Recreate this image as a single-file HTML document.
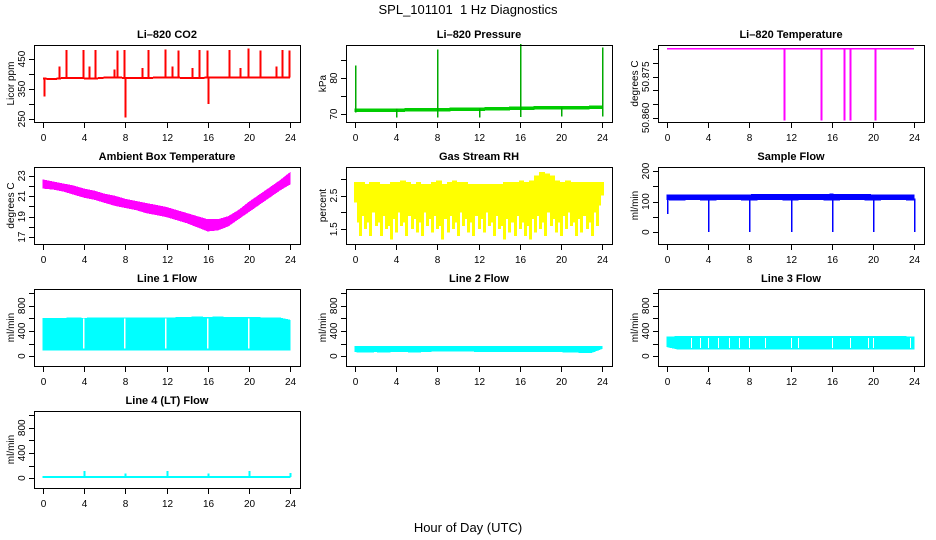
<!DOCTYPE html>
<html><head><meta charset="utf-8"><style>
body{margin:0;background:#fff}
svg{display:block;font-family:"Liberation Sans",sans-serif}
</style></head><body>
<svg id="c" width="936" height="540" viewBox="0 0 936 540">
<rect width="936" height="540" fill="#fff"/>
<text x="468" y="14" text-anchor="middle" font-size="13">SPL_101101&#160; 1 Hz Diagnostics</text>
<text x="468" y="532" text-anchor="middle" font-size="13">Hour of Day (UTC)</text>
</svg>
<script>
const hours=[0,1,2,3,4,5,6,7,8,9,10,11,12,13,14,15,16,17,18,19,20,21,22,23,24];
const xTicks=[0,4,8,12,16,20,24];
// CO2
const co2Base=[385,383,387,387,386,385,388,389,387,386,387,388,388,388,387,387,388,388,388,388,388,388,388,388,388];
const co2SpikeHours=[0.1,1.6,2.2,3.9,4.5,5.1,6.9,7.2,7.9,8.0,9.6,10.2,11.9,12.5,13.1,14.5,15.2,15.9,16.0,18.1,19.1,19.9,21.1,22.6,23.2,23.9];
const co2SpikeVals=[325,425,480,480,425,480,415,478,480,255,420,480,482,425,478,420,480,478,300,480,420,485,478,425,480,478];
// Pressure
const presBase=[71.0,71.0,71.0,71.0,71.0,71.1,71.1,71.1,71.2,71.2,71.3,71.3,71.3,71.4,71.4,71.5,71.6,71.6,71.7,71.7,71.7,71.7,71.7,71.8,71.8];
const presSpikeHours=[0,4,8,12,16,20,24];
const presSpikeHigh=[83.5,71.5,88,71.5,89.5,71.8,88.5];
const presSpikeLow=[70.5,69,69,69,69.2,69.3,69.3];
// Li-820 temperature
const tempLevel=50.8853;
const tempDropHours=[11.4,15.0,17.2,17.8,20.2];
const tempDropVals=[50.8590,50.8590,50.8590,50.8590,50.8590];
// Ambient box temp
const ambUpper=[22.6,22.4,22.2,22.0,21.7,21.5,21.2,21.0,20.7,20.5,20.3,20.1,19.9,19.6,19.3,19.0,18.7,18.7,19.0,19.6,20.4,21.1,21.8,22.5,23.3];
const ambLower=[21.8,21.7,21.5,21.2,20.9,20.7,20.4,20.1,19.9,19.7,19.4,19.2,19.0,18.7,18.4,18.0,17.6,17.7,18.1,18.8,19.5,20.2,20.9,21.6,22.2];
// RH (half-hour)
const rhLow=[2.3,1.3,1.5,1.3,1.6,1.3,1.5,1.2,1.4,1.6,1.3,1.5,1.4,1.3,1.6,1.4,1.5,1.2,1.4,1.5,1.3,1.6,1.4,1.3,1.5,1.4,1.6,1.3,1.5,1.2,1.4,1.3,1.5,1.3,1.2,1.4,1.5,1.3,1.6,1.4,1.3,1.5,1.6,1.3,1.4,1.5,1.3,1.6,2.5];
const rhHigh=[2.9,2.9,2.85,2.9,2.9,2.85,2.85,2.9,2.9,2.95,2.9,2.85,2.9,2.85,2.85,2.9,2.95,2.85,2.9,2.95,2.9,2.9,2.85,2.85,2.85,2.85,2.85,2.85,2.85,2.9,2.9,2.9,2.95,2.9,2.95,3.1,3.2,3.15,3.1,2.95,2.9,2.95,2.9,2.9,2.9,2.9,2.9,2.9,2.9];
// Sample flow
const sfUpper=[122,122,122,122,122,122,122,122,122,123,123,123,123,123,123,123,124,123,123,123,122,122,122,121,121];
const sfLower=[106,105,106,106,105,106,106,106,105,106,106,106,105,106,106,106,105,106,106,106,105,106,106,106,105];
const sfDipHours=[0,4,8,12,16,20,24];
const sfDipVals=[60,0,0,0,0,0,0];
// Line flows
const l1Upper=[600,595,600,605,600,605,605,605,605,605,605,605,605,610,615,620,615,620,615,615,610,610,605,605,570];
const l1Lower=[100,100,100,100,100,100,100,100,100,100,100,100,100,100,100,100,100,100,100,100,100,100,100,100,100];
const lineGapHours=[4,8,12,16,20];
const l2Upper=[150,150,150,150,150,150,150,150,150,150,150,150,150,150,150,150,150,150,150,150,150,150,150,150,150];
const l2Lower=[70,65,70,65,75,70,65,75,80,80,80,80,75,75,75,75,70,70,70,70,70,65,60,60,120];
const l3Upper=[300,310,310,310,310,310,310,310,310,310,310,310,310,310,310,310,310,310,310,310,310,310,310,310,300];
const l3Lower=[150,115,115,115,115,115,115,115,115,115,115,115,115,115,115,115,115,115,115,115,115,115,115,115,115];
const l3GapHours=[2.3,3.2,4,5,6,7,8,9.5,12,12.7,16,17.8,19.5,20,23.6];
const l4Base=[15,15,15,15,15,15,15,15,15,15,15,15,15,15,15,15,15,15,15,15,15,15,15,15,15];
const l4SpikeHours=[4,8,12,16,20,24];
const l4SpikeVals=[115,75,115,75,115,80];

const svg=document.getElementById('c');
const NS='http://www.w3.org/2000/svg';
function el(tag,attrs,parent){const e=document.createElementNS(NS,tag);for(const k in attrs)e.setAttribute(k,attrs[k]);(parent||svg).appendChild(e);return e;}

function panel(col,row,name,title,ylab,ylim,ticks,labels,showX){
  const L=34+col*312,R=L+266,T=45+row*122,B=T+77;
  const x0=L+9,x1=R-10;
  const g=el('g',{});
  
  
  const sx=h=>x0+(x1-x0)*h/24;
  const sy=v=>B-(v-ylim[0])/(ylim[1]-ylim[0])*(B-T);
  const t=el('text',{x:(L+R)/2,y:T-7,'text-anchor':'middle','font-size':11,'font-weight':'bold'},g);
  t.textContent=title;
  
  
  const dg=el('g',{'shape-rendering':'crispEdges'},g);
  
  
  const box=el('rect',{x:L+.5,y:T+.5,width:R-L,height:B-T,fill:'none',stroke:'#000','stroke-width':1},g);
  
  
  const ya=el('g',{},g);
  
  
  el('line',{x1:L+.5,x2:L+.5,y1:sy(ticks[0]),y2:sy(ticks[ticks.length-1]),stroke:'#000'},ya);
  ticks.forEach(v=>{const y=Math.round(sy(v))+.5;el('line',{x1:L-5,x2:L+.5,y1:y,y2:y,stroke:'#000'},ya);});
  labels.forEach(v=>{const y=sy(v);const tx=el('text',{x:0,y:0,'text-anchor':'middle','font-size':10,transform:`translate(${L-9},${y}) rotate(-90)`},ya);tx.textContent=String(v);});
  const yl=el('text',{x:0,y:0,'text-anchor':'middle','font-size':10,transform:`translate(${L-20},${(T+B)/2}) rotate(-90)`},ya);
  yl.textContent=ylab;
  
  
  const xa=el('g',{},g);
  
  
  xTicks.forEach(h=>{const x=Math.round(sx(h))+.5;el('line',{x1:x,x2:x,y1:B,y2:B+6,stroke:'#000'},xa);
    if(showX){const tx=el('text',{x:x,y:B+19,'text-anchor':'middle','font-size':10},xa);tx.textContent=String(h);}});
  return {g:dg,sx,sy};
}
function band(p,up,lo,color){
  let pts=hours.map((h,i)=>p.sx(h)+','+p.sy(up[i]));
  pts=pts.concat(hours.slice().reverse().map((h,j)=>{const i=hours.length-1-j;return p.sx(h)+','+p.sy(lo[i]);}));
  el('polygon',{points:pts.join(' '),fill:color,stroke:color,'stroke-width':1},p.g);
}
function line(p,vals,color,w){
  el('polyline',{points:hours.map((h,i)=>p.sx(h)+','+p.sy(vals[i])).join(' '),fill:'none',stroke:color,'stroke-width':w||1},p.g);
}
function vlines(p,hs,from,to,color,w){
  hs.forEach((h,i)=>{const x=Math.round(p.sx(h))+.5;const a=Array.isArray(from)?from[i]:from;const b=Array.isArray(to)?to[i]:to;
    el('line',{x1:x,x2:x,y1:p.sy(a),y2:p.sy(b),stroke:color,'stroke-width':w||1},p.g);});
}
function baseAt(arr,h){const i=Math.min(23,Math.floor(h));const f=h-i;return arr[i]*(1-f)+arr[i+1]*f;}

let p=panel(0,0,'co2','Li–820 CO2','Licor ppm',[240,497],[250,300,350,400,450],[250,350,450],true);
line(p,co2Base,'#f00',2);
vlines(p,co2SpikeHours,co2SpikeHours.map(h=>baseAt(co2Base,h)),co2SpikeVals,'#f00',2);
p=panel(1,0,'pressure','Li–820 Pressure','kPa',[67.8,89.2],[70,75,80,85],[70,80],true);
band(p,presBase.map(v=>v+0.4),presBase.map(v=>v-0.3),'#0c0');
vlines(p,presSpikeHours,presSpikeLow,presSpikeHigh,'#0a0',1.5);
p=panel(2,0,'li820-temp','Li–820 Temperature','degrees C',[50.8585,50.8866],[50.86,50.865,50.87,50.875,50.88,50.885],['50.860','50.875'],true);
line(p,hours.map(()=>tempLevel),'#f0f',1.5);
vlines(p,tempDropHours,tempLevel,tempDropVals,'#f0f',2);
p=panel(0,1,'ambient-temp','Ambient Box Temperature','degrees C',[16.32,23.87],[17,18,19,20,21,22,23],[17,19,21,23],true);
band(p,ambUpper,ambLower,'#f0f');
p=panel(1,1,'rh','Gas Stream RH','percent',[1.06,3.35],[1.5,2,2.5,3],[1.5,2.5],true);
const rhH=rhLow.map((v,i)=>i/2);
vlines(p,rhH,rhLow,rhHigh,'#ff0',3);
vlines(p,rhH.map(h=>h+0.25).slice(0,48),rhLow.slice(1).map(v=>Math.min(2.2,v+0.4)),rhHigh.slice(0,48),'#ff0',3);
p=panel(2,1,'sample-flow','Sample Flow','ml/min',[-39,213],[0,50,100,150,200],[0,100,200],true);
band(p,sfUpper,sfLower,'#00f');
vlines(p,sfDipHours,110,sfDipVals,'#00f',1.5);
const fy=[-157,1066],fT=[0,200,400,600,800,1000],fL=[0,400,800];
p=panel(0,2,'line1-flow','Line 1 Flow','ml/min',fy,fT,fL,true);
band(p,l1Upper,l1Lower,'#0ff');
vlines(p,lineGapHours.map(h=>h-0.1),120,600,'#fff',1.5);
p=panel(1,2,'line2-flow','Line 2 Flow','ml/min',fy,fT,fL,true);
band(p,l2Upper,l2Lower,'#0ff');
p=panel(2,2,'line3-flow','Line 3 Flow','ml/min',fy,fT,fL,true);
band(p,l3Upper,l3Lower,'#0ff');
vlines(p,l3GapHours,130,290,'#fff',1);
p=panel(0,3,'line4-flow','Line 4 (LT) Flow','ml/min',fy,fT,fL,true);
band(p,l4Base.map(v=>v+8),l4Base.map(v=>v-8),'#0ff');
vlines(p,l4SpikeHours,15,l4SpikeVals,'#0ff',2);
</script>
</body></html>
